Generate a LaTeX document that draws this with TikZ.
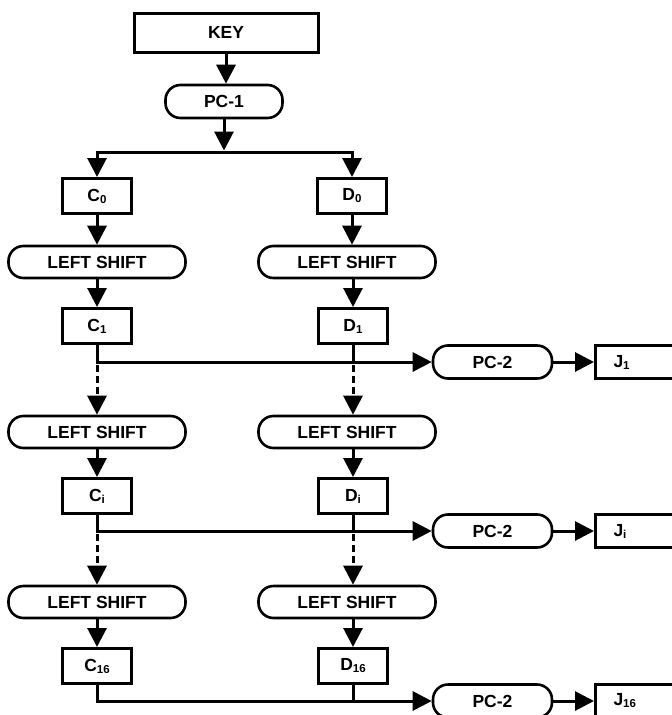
\documentclass[tikz,border=0pt]{standalone}
\usepackage{fontspec}
\setmainfont{Liberation Sans}
\usetikzlibrary{arrows.meta}
\newcommand\sbs[1]{\raisebox{-2pt}{\fontsize{11.5}{11.5}\selectfont #1}}
\begin{document}
\begin{tikzpicture}[x=1pt,y=-1pt,
 lbl/.style={font=\bfseries\fontsize{17.5}{20}\selectfont, inner sep=0pt},
 sqbox/.style={lbl, draw, line width=3pt, minimum width=69pt, minimum height=35pt},
 pill/.style={lbl, draw, line width=2.6pt, rounded corners=15pt, minimum width=177pt, minimum height=32pt},
 pctwo/.style={pill, minimum width=119pt, minimum height=33pt},
 ln/.style={line width=3pt},
 arr/.style={ln, -{Triangle[width=19pt,length=19pt]}},
 dotarr/.style={arr, dash pattern=on 7pt off 4pt, dash phase=-3pt},
 jbox/.style={lbl, draw, line width=3pt, anchor=west, minimum height=33pt, text width=80pt, align=left, inner xsep=18pt}
]
\useasboundingbox (0,0) rectangle (672,715);
\fill[white] (0,0) rectangle (672,715);

% top
\node[sqbox, minimum width=184pt, minimum height=39pt] (key) at (226,32.5) {KEY};
\node[pill, minimum width=117pt, minimum height=33pt] (pc1) at (224,101.5) {PC-1};
\coordinate (split) at (225,152);

% first row
\node[sqbox] (C0) at (97,196) {C\sbs{0}};
\node[sqbox] (D0) at (352,196) {D\sbs{0}};
\node[pill] (LS1c) at (97,262) {LEFT SHIFT};
\node[pill] (LS1d) at (347,262) {LEFT SHIFT};
\node[sqbox] (C1) at (97,326) {C\sbs{1}};
\node[sqbox] (D1) at (353,326) {D\sbs{1}};
\node[pctwo] (P2a) at (492.5,362) {PC-2};
\node[jbox] (J1) at (594,362) {J\sbs{1}};

% second row
\node[pill] (LS2c) at (97,432) {LEFT SHIFT};
\node[pill] (LS2d) at (347,432) {LEFT SHIFT};
\node[sqbox] (Ci) at (97,496) {C\sbs{i}};
\node[sqbox] (Di) at (353,496) {D\sbs{i}};
\node[pctwo] (P2b) at (492.5,531) {PC-2};
\node[jbox] (Ji) at (594,531) {J\sbs{i}};

% third row
\node[pill] (LS3c) at (97,602) {LEFT SHIFT};
\node[pill] (LS3d) at (347,602) {LEFT SHIFT};
\node[sqbox] (C16) at (97,666) {C\sbs{16}};
\node[sqbox] (D16) at (353,666) {D\sbs{16}};
\node[pctwo] (P2c) at (492.5,701) {PC-2};
\node[jbox] (J16) at (594,701) {J\sbs{16}};

% connectors top
\draw[arr] (key.south) -- (key.south |- pc1.north);
\draw[arr, shorten >=1.5pt] (pc1.south) -- (pc1.south |- split);
\draw[arr] (split) -| (C0.north);
\draw[arr] (split) -| (D0.north);

% row 1
\draw[arr] (C0.south) -- (C0.south |- LS1c.north);
\draw[arr] (D0.south) -- (D0.south |- LS1d.north);
\draw[arr] (LS1c.south) -- (LS1c.south |- C1.north);
\draw[arr] (D1.north |- LS1d.south) -- (D1.north);
\draw[arr] (C1.south) |- (P2a.west);
\draw[ln] (D1.south) -- (D1.south |- P2a.west);
\draw[arr] (P2a.east) -- (J1.west);
\draw[dotarr] (C1.south |- P2a.west) -- (C1.south |- LS2c.north);
\draw[dotarr] (D1.south |- P2a.west) -- (D1.south |- LS2d.north);

% row 2
\draw[arr] (LS2c.south) -- (LS2c.south |- Ci.north);
\draw[arr] (Di.north |- LS2d.south) -- (Di.north);
\draw[arr] (Ci.south) |- (P2b.west);
\draw[ln] (Di.south) -- (Di.south |- P2b.west);
\draw[arr] (P2b.east) -- (Ji.west);
\draw[dotarr] (Ci.south |- P2b.west) -- (Ci.south |- LS3c.north);
\draw[dotarr] (Di.south |- P2b.west) -- (Di.south |- LS3d.north);

% row 3
\draw[arr] (LS3c.south) -- (LS3c.south |- C16.north);
\draw[arr] (D16.north |- LS3d.south) -- (D16.north);
\draw[arr] (C16.south) |- (P2c.west);
\draw[ln] (D16.south) -- (D16.south |- P2c.west);
\draw[arr] (P2c.east) -- (J16.west);
\end{tikzpicture}
\end{document}
